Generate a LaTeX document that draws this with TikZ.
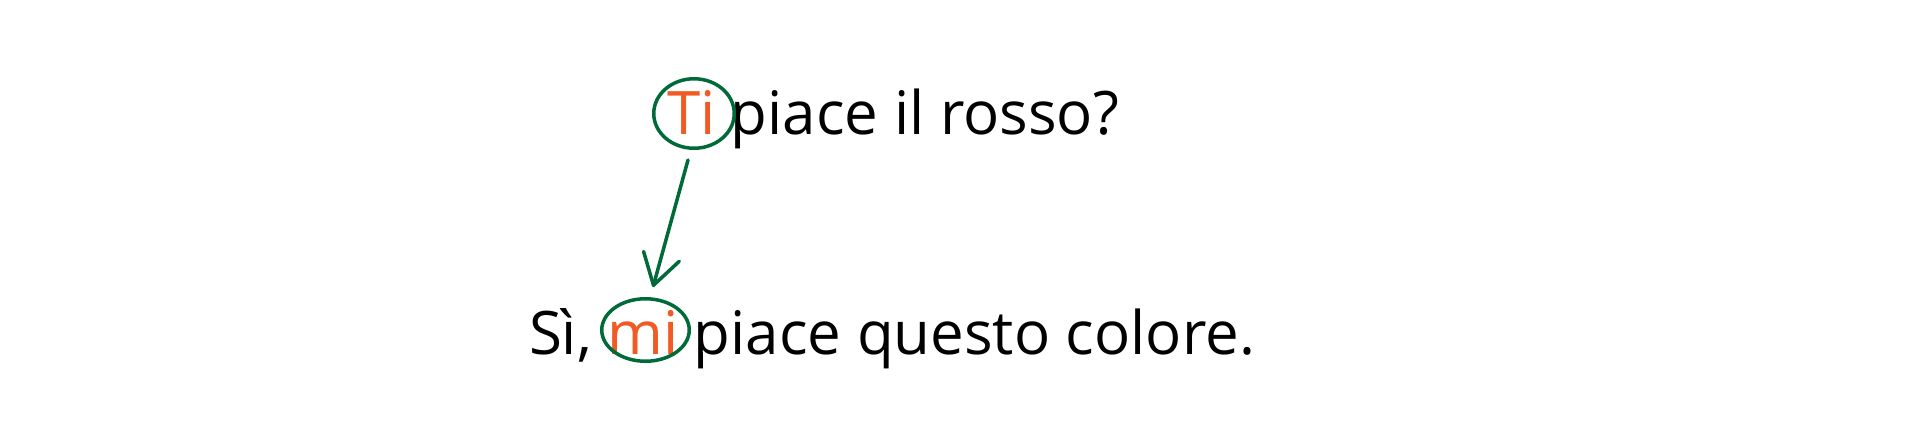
\documentclass[tikz,border=0pt]{standalone}
\usepackage{fontspec}
\setmainfont{Open Sans}
\usetikzlibrary{arrows.meta,shapes.geometric}
\definecolor{hlorange}{RGB}{241,90,36}
\definecolor{hlgreen}{RGB}{0,106,56}
\begin{document}
\begin{tikzpicture}[x=1bp,y=-1bp,
  sentence/.style={anchor=base west,inner sep=0pt,outer sep=0pt,
    font=\fontsize{60bp}{72bp}\selectfont,text=black},
  ring/.style={draw=hlgreen,line width=3.5bp,ellipse,inner sep=0pt},
  link/.style={draw=hlgreen,line width=3.5bp,line cap=round,line join=round,
    -{Straight Barb[length=30bp,width=37bp,line cap=round,line join=round]}}]
\useasboundingbox (0,0) rectangle (1920,429);
\node[sentence] (q) at (667,134) {\textcolor{hlorange}{Ti} piace il rosso?};
\node[sentence] (a) at (529,354) {Sì, \textcolor{hlorange}{mi} piace questo colore.};
\node[ring,minimum width=80.5bp,minimum height=69.5bp] (ti) at (694,113.5) {};
\node[ring,minimum width=87.5bp,minimum height=62.5bp] (mi) at (645.5,330) {};
\coordinate (s) at (688,160);
\coordinate (e) at (653,287);
\draw[link] (s) -- (e);
\end{tikzpicture}
\end{document}
